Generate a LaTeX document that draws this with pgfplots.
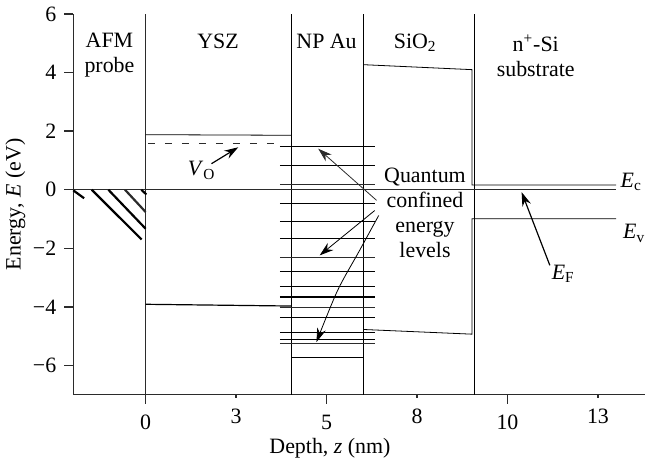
\documentclass[border=0pt]{standalone}
\usepackage{fontspec}
\setmainfont{Liberation Serif}
\usepackage{pgfplots}
\pgfplotsset{compat=1.18}
\usetikzlibrary{arrows.meta}
\definecolor{ln}{HTML}{2B2B2B}
\begin{document}
\begin{tikzpicture}[font=\fontsize{11}{12.5}\selectfont]
\begin{axis}[
  scale only axis, width=286bp, height=190.5bp,
  xmin=-2, xmax=13.8, ymin=-7, ymax=6,
  axis x line*=bottom, axis y line*=left,
  axis line style={ln, line width=0.7pt},
  xtick={0,5,10}, xticklabels={0,5,10},
  extra x ticks={2.5,7.5,12.5}, extra x tick labels={3,8,13},
  extra x tick style={major tick length=1.5bp},
  ytick={-6,-4,-2,0,2,4,6}, yticklabels={−6,−4,−2,0,2,4,6},
  tick align=outside, major tick length=4.5bp,
  tick style={ln, line width=0.7pt},
  xticklabel style={yshift=-2bp},
  yticklabel style={xshift=-0.5bp},
  xlabel={Depth, \textit{z} (nm)},
  ylabel={Energy, \textit{E} (eV)},
  xlabel style={at={(axis description cs:0.449,-0.139)}, anchor=center},
  ylabel style={at={(axis description cs:-0.1014,0.5)}, anchor=center},
  clip=false,
  cycle list={{ln, solid, mark=none, line width=0.6pt}},
]
\coordinate (LL) at (rel axis cs:0,0);
\coordinate (UR) at (rel axis cs:1,1);
% layer boundaries
\addplot coordinates {(0,-7) (0,6)};
\addplot coordinates {(4.03,-7) (4.03,6)};
\addplot coordinates {(6.01,-7) (6.01,6)};
\addplot coordinates {(9.08,-7) (9.08,6)};
% Fermi level
\addplot coordinates {(-2,0) (13.0,0)};
% hatching (AFM probe metal)
\addplot+[line width=1.1pt] coordinates {(-2.0,-0.02) (-1.70,-0.29)};
\addplot+[line width=1.1pt] coordinates {(-1.49,0) (-0.11,-1.70)};
\addplot+[line width=1.1pt] coordinates {(-1.03,0) (0,-1.33)};
\addplot+[line width=1.1pt] coordinates {(-0.57,0) (0,-0.76)};
\addplot+[line width=1.1pt] coordinates {(-0.12,0) (0.02,-0.16)};
% YSZ
\addplot coordinates {(0,1.88) (4.03,1.86)};
\addplot coordinates {(0,-3.91) (4.03,-3.97)};
\addplot+[dash pattern=on 3.5bp off 5bp] coordinates {(0.06,1.59) (3.76,1.59)};
% NP Au box bottom
\addplot coordinates {(4.03,-5.74) (6.01,-5.74)};
% quantum levels
\addplot coordinates {(3.71,1.49) (6.33,1.49)};
\addplot coordinates {(3.71,0.83) (6.33,0.83)};
\addplot coordinates {(3.71,0.17) (6.33,0.17)};
\addplot coordinates {(3.71,-0.48) (6.33,-0.48)};
\addplot coordinates {(3.71,-1.07) (6.33,-1.07)};
\addplot coordinates {(3.71,-1.67) (6.33,-1.67)};
\addplot coordinates {(3.71,-2.30) (6.33,-2.30)};
\addplot coordinates {(3.71,-2.78) (6.33,-2.78)};
\addplot coordinates {(3.71,-3.29) (6.33,-3.29)};
\addplot coordinates {(3.71,-3.66) (6.33,-3.66)};
\addplot coordinates {(3.71,-4.00) (6.33,-4.00)};
\addplot coordinates {(3.71,-4.37) (6.33,-4.37)};
\addplot coordinates {(3.71,-4.88) (6.33,-4.88)};
\addplot coordinates {(3.71,-5.11) (6.33,-5.11)};
\addplot coordinates {(3.71,-5.26) (6.33,-5.26)};
% SiO2 and Si bands
\addplot coordinates {(6.01,4.27) (9.02,4.10) (9.02,0.16) (13.0,0.16)};
\addplot coordinates {(6.01,-4.77) (9.02,-4.93) (9.02,-0.99) (13.0,-0.99)};
% arrows
\addplot+[-{Stealth[length=7bp,width=4.5bp]}] coordinates {(1.82,0.89) (2.56,1.45)};
\addplot+[-{Stealth[length=7bp,width=4.5bp]}] coordinates {(6.38,-0.36) (4.77,1.40)};
\addplot+[-{Stealth[length=7bp,width=4.5bp]}] coordinates {(6.33,-0.71) (4.81,-2.24)};
\addplot+[smooth, -{Stealth[length=7bp,width=4.5bp]}] coordinates {(6.44,-0.88) (5.9,-2.1) (5.3,-3.45) (4.72,-5.2)};
\addplot+[-{Stealth[length=7bp,width=4.5bp]}] coordinates {(11.17,-2.58) (10.39,-0.08)};
% labels
\node[align=center] at (axis cs:-1.0,4.6) {AFM\\probe};
\node at (axis cs:2.0,5.08) {YSZ};
\node at (axis cs:5.0,5.08) {NP Au};
\node at (axis cs:7.45,5.02) {SiO\textsubscript{2}};
\node[align=center] at (axis cs:10.78,4.56) {n\textsuperscript{+}-Si\\substrate};
\node[align=center] at (axis cs:7.72,-0.8) {Quantum\\confined\\energy\\levels};
\node at (axis cs:1.55,0.66) {\textit{V}\textsubscript{O}};
\node at (axis cs:11.54,-2.86) {\textit{E}\textsubscript{F}};
\node at (axis cs:13.42,0.26) {\textit{E}\textsubscript{c}};
\node at (axis cs:13.5,-1.49) {\textit{E}\textsubscript{v}};
\end{axis}
\pgfresetboundingbox
\useasboundingbox ([shift={(-36.65bp,-33bp)}]LL) rectangle ([shift={(0bp,7bp)}]UR);
\end{tikzpicture}
\end{document}
